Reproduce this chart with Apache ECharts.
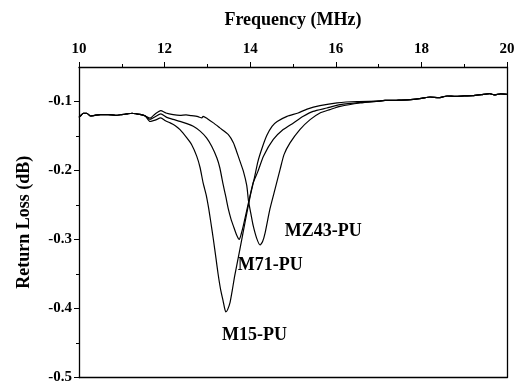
<!DOCTYPE html>
<html>
<head>
<meta charset="utf-8">
<script src="https://cdn.jsdelivr.net/npm/echarts@6/dist/echarts.min.js"></script>
<style>
  html, body { margin: 0; padding: 0; background: #fff; }
  #chart { width: 519px; height: 385px; }
</style>
</head>
<body>
<div id="chart"></div>
<script>
// shared flat parts of the three traces (they overlap there)
const headFreq = [10.0, 10.05, 10.1, 10.18, 10.27, 10.37, 10.5, 10.68, 10.85, 11.0, 11.12, 11.24, 11.35, 11.45, 11.55]
const headLoss = [-0.123, -0.120, -0.117, -0.117, -0.121, -0.120, -0.119, -0.119, -0.120, -0.119, -0.118, -0.117, -0.118, -0.119, -0.121]
const tailFreq = [17.0, 17.15, 17.3, 17.5, 17.75, 18.0, 18.2, 18.4, 18.6, 18.8, 19.0, 19.2, 19.4, 19.6, 19.7, 19.85, 20.0]
const tailLoss = [-0.0995, -0.0985, -0.0985, -0.098, -0.0972, -0.0955, -0.0935, -0.0945, -0.092, -0.0925, -0.0918, -0.0915, -0.0900, -0.0885, -0.0905, -0.0890, -0.0895]

// M15-PU
const m15Freq = [11.66, 11.78, 11.91, 12.02, 12.13, 12.25, 12.36, 12.52, 12.63, 12.75, 12.83, 12.90, 12.97, 13.03, 13.08, 13.14, 13.20, 13.25, 13.31, 13.37, 13.40, 13.43, 13.47, 13.53, 13.58, 13.64, 13.76, 13.88, 14.00, 14.09, 14.18, 14.28, 14.39, 14.51, 14.63, 14.86, 15.12, 15.33, 15.63, 16.03, 16.50]
const m15Loss = [-0.129, -0.127, -0.1238, -0.128, -0.131, -0.135, -0.1407, -0.1527, -0.1623, -0.1792, -0.196, -0.218, -0.235, -0.255, -0.275, -0.300, -0.327, -0.350, -0.373, -0.390, -0.399, -0.405, -0.402, -0.391, -0.374, -0.352, -0.314, -0.275, -0.237, -0.213, -0.187, -0.167, -0.149, -0.136, -0.129, -0.1215, -0.1166, -0.111, -0.106, -0.102, -0.100]

// M71-PU
const m71Freq = [11.66, 11.78, 11.91, 12.05, 12.20, 12.36, 12.52, 12.67, 12.83, 12.98, 13.10, 13.22, 13.29, 13.37, 13.43, 13.49, 13.55, 13.61, 13.68, 13.745, 13.79, 13.84, 13.96, 14.07, 14.18, 14.31, 14.54, 14.77, 15.01, 15.24, 15.47, 15.79, 16.10, 16.57]
const m71Loss = [-0.126, -0.122, -0.118, -0.123, -0.126, -0.1287, -0.132, -0.136, -0.143, -0.1527, -0.1648, -0.1815, -0.196, -0.221, -0.238, -0.256, -0.270, -0.281, -0.293, -0.300, -0.292, -0.280, -0.2465, -0.2176, -0.2013, -0.1792, -0.155, -0.1407, -0.131, -0.1215, -0.1143, -0.1094, -0.1046, -0.1013]

// MZ43-PU
const mz43Freq = [11.66, 11.78, 11.91, 12.03, 12.20, 12.36, 12.50, 12.63, 12.78, 12.87, 12.90, 13.00, 13.14, 13.29, 13.49, 13.61, 13.68, 13.76, 13.84, 13.92, 13.96, 14.02, 14.07, 14.15, 14.23, 14.29, 14.35, 14.46, 14.58, 14.70, 14.79, 14.93, 15.16, 15.40, 15.63, 15.86, 16.10, 16.57]
const mz43Loss = [-0.124, -0.118, -0.1133, -0.1166, -0.119, -0.120, -0.1195, -0.1205, -0.122, -0.1238, -0.1215, -0.125, -0.131, -0.1382, -0.1479, -0.160, -0.172, -0.1864, -0.201, -0.222, -0.244, -0.264, -0.280, -0.298, -0.308, -0.303, -0.290, -0.256, -0.227, -0.198, -0.177, -0.160, -0.1407, -0.1263, -0.1166, -0.1118, -0.1071, -0.1022]

const seriesNames = ['M15-PU', 'M71-PU', 'MZ43-PU']
// where each name sits, in data units [MHz, dB]
const labelFreq = [13.34, 13.71, 14.81]
const labelLoss = [-0.439, -0.338, -0.288]

const xTicks = { min: 10, max: 20, interval: 2 }
const yRange = { min: -0.5, max: -0.05 }
const yMajor = [-0.5, -0.4, -0.3, -0.2, -0.1]
const yMinor = [-0.45, -0.35, -0.25, -0.15]

const font = "'Times New Roman', 'Liberation Serif', serif"

const zipPts = (fs, ls) => fs.map((f, i) => [f, ls[i]])
const trace = (fs, ls) => zipPts(headFreq, headLoss).concat(zipPts(fs, ls), zipPts(tailFreq, tailLoss))

const traces = [
  trace(m15Freq, m15Loss),
  trace(m71Freq, m71Loss),
  trace(mz43Freq, mz43Loss),
]

const chart = echarts.init(document.getElementById('chart'))

const axisLine = { show: true, lineStyle: { color: '#000', width: 1.3 } }
const axisText = { color: '#000', fontFamily: font, fontWeight: 'bold', fontSize: 15 }
const tickStyle = { color: '#000', width: 1 }

chart.setOption({
  animation: false,
  backgroundColor: '#fff',
  grid: { left: 79, right: 12, top: 67, bottom: 6 },
  xAxis: [
    {
      type: 'value',
      position: 'top',
      min: xTicks.min,
      max: xTicks.max,
      interval: xTicks.interval,
      name: 'Frequency (MHz)',
      nameLocation: 'middle',
      nameGap: 38,
      nameTextStyle: { color: '#000', fontFamily: font, fontWeight: 'bold', fontSize: 18 },
      axisLine,
      axisTick: { show: true, inside: false, length: 5, lineStyle: tickStyle },
      minorTick: { show: true, splitNumber: 2, length: 3, lineStyle: tickStyle },
      axisLabel: { ...axisText, margin: 10 },
      splitLine: { show: false },
    },
    {
      type: 'value',
      position: 'bottom',
      min: xTicks.min,
      max: xTicks.max,
      axisLine,
      axisTick: { show: false },
      axisLabel: { show: false },
      splitLine: { show: false },
    },
  ],
  yAxis: [
    {
      type: 'value',
      position: 'left',
      min: yRange.min,
      max: yRange.max,
      name: 'Return Loss (dB)',
      nameLocation: 'middle',
      nameGap: 46,
      nameTextStyle: { color: '#000', fontFamily: font, fontWeight: 'bold', fontSize: 18 },
      axisLine,
      axisTick: { show: true, inside: false, length: 5, lineStyle: tickStyle, customValues: yMajor },
      axisLabel: { ...axisText, margin: 7, customValues: yMajor, formatter: (v) => v.toFixed(1) },
      splitLine: { show: false },
    },
    {
      // short minor ticks on the left
      type: 'value',
      position: 'left',
      offset: 0,
      min: yRange.min,
      max: yRange.max,
      axisLine: { show: false },
      axisTick: { show: true, inside: false, length: 3, lineStyle: tickStyle, customValues: yMinor },
      axisLabel: { show: false },
      splitLine: { show: false },
    },
    {
      type: 'value',
      position: 'right',
      min: yRange.min,
      max: yRange.max,
      axisLine,
      axisTick: { show: false },
      axisLabel: { show: false },
      splitLine: { show: false },
    },
  ],
  series: traces.map((pts, i) => ({
    name: seriesNames[i],
    type: 'line',
    data: pts,
    showSymbol: false,
    smooth: 0.2,
    lineStyle: { color: '#000', width: 1.2 },
    markPoint: {
      symbol: 'circle',
      symbolSize: 0,
      silent: true,
      label: {
        show: true,
        position: 'inside',
        align: 'left',
        verticalAlign: 'middle',
        color: '#000',
        fontFamily: font,
        fontWeight: 'bold',
        fontSize: 18,
        formatter: seriesNames[i],
      },
      data: [{ coord: [labelFreq[i], labelLoss[i]] }],
    },
  })),
})
</script>
</body>
</html>
